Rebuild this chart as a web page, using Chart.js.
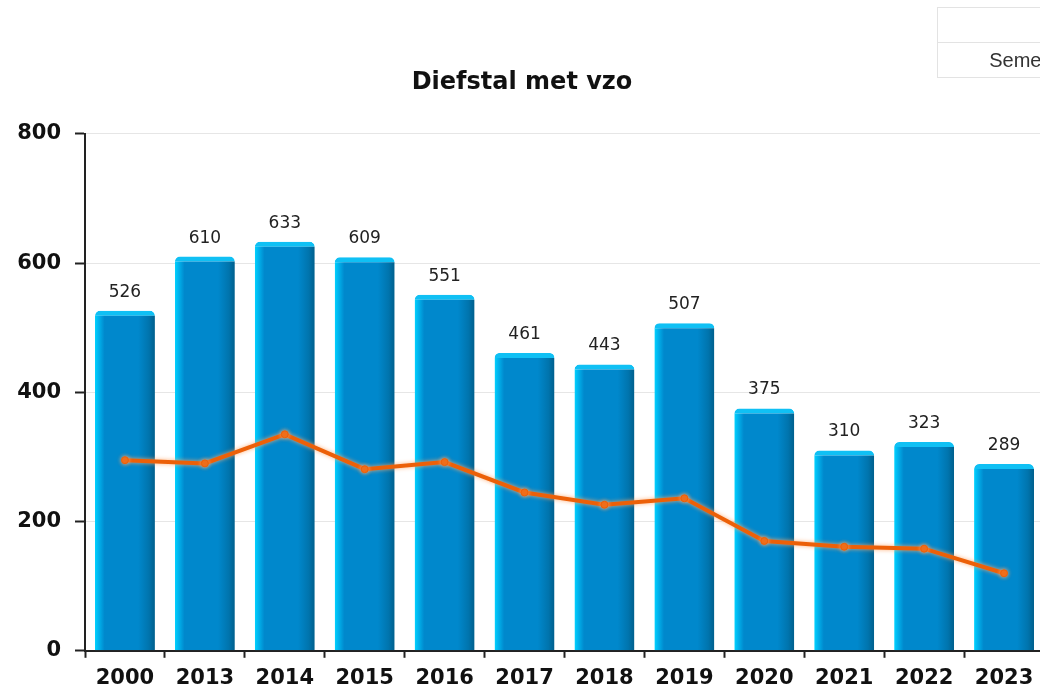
<!DOCTYPE html>
<html>
<head>
<meta charset="utf-8">
<script src="https://cdn.jsdelivr.net/npm/chart.js@4/dist/chart.umd.min.js"></script>
<style>
    body { margin: 0; background: #fff; overflow: hidden; }
    #wrap { position: absolute; left: 0; top: 0; width: 1052px; height: 699px; }
    #info { position: absolute; left: 937px; top: 7px; width: 190px; table-layout: fixed; border-collapse: collapse; font-family: "Liberation Sans", Arial, sans-serif; font-size: 20px; color: #333; }
    #info td { border: 1px solid #e3e3e3; height: 34px; text-align: center; padding: 0; }
</style>
</head>
<body>
<div id="wrap"><canvas id="chart"></canvas></div>
<table id="info">
    <tr><td></td></tr>
    <tr><td>Semester</td></tr>
</table>
<script>
// jaren + aantallen
const years = ['2000', '2013', '2014', '2015', '2016', '2017', '2018', '2019', '2020', '2021', '2022', '2023'];
const barValues = [526, 610, 633, 609, 551, 461, 443, 507, 375, 310, 323, 289];
const lineValues = [295, 290, 335, 281, 292, 245, 226, 236, 170, 161, 158, 120];
const yTicks = [0, 200, 400, 600, 800];

// horizontale gradient per staaf
function barGradient(ctx) {
    const chart = ctx.chart;
    const xs = chart.scales.x;
    if (!xs || !chart.chartArea) return '#0088cc';
    const cx = xs.getPixelForValue(ctx.dataIndex);
    const w = xs.width / years.length * 0.75;
    const g = chart.ctx.createLinearGradient(cx - w / 2, 0, cx + w / 2, 0);
    g.addColorStop(0, '#00d2ff');
    g.addColorStop(0.06, '#00b4ee');
    g.addColorStop(0.16, '#0088cc');
    g.addColorStop(0.72, '#0088cc');
    g.addColorStop(0.9, '#0074ad');
    g.addColorStop(1, '#005f8c');
    return g;
}

// waarden boven de staven + gloed om de lijn
const valueLabels = {
    id: 'valueLabels',
    beforeDatasetDraw(chart, args) {
        if (args.index !== 0) return;
        chart.ctx.save();
        chart.ctx.shadowColor = 'rgba(255, 170, 110, 0.9)';
        chart.ctx.shadowBlur = 4;
    },
    afterDatasetDraw(chart, args) {
        if (args.index === 0) chart.ctx.restore();
    },
    afterDatasetsDraw(chart) {
        const meta = chart.getDatasetMeta(1);
        const c = chart.ctx;
        c.save();
        c.font = '17px "DejaVu Sans"';
        c.fillStyle = '#222';
        c.textAlign = 'center';
        c.textBaseline = 'bottom';
        meta.data.forEach((bar, i) => {
            c.fillText(barValues[i], bar.x, bar.y - 10);
        });
        c.restore();
    }
};

new Chart(document.getElementById('chart'), {
    data: {
        labels: years,
        datasets: [{
            type: 'line',
            data: lineValues,
            borderColor: '#ec6008',
            borderWidth: 4,
            pointRadius: 3.5,
            pointBorderWidth: 1,
            pointBackgroundColor: '#ec6008',
            pointBorderColor: '#ec6008',
            tension: 0,
            order: 0
        }, {
            type: 'bar',
            data: barValues,
            backgroundColor: barGradient,
            borderColor: '#10c0f4',
            borderWidth: { top: 5, left: 0, right: 0, bottom: 0 },
            borderRadius: { topLeft: 5, topRight: 5 },
            borderSkipped: false,
            barPercentage: 0.75,
            categoryPercentage: 1,
            order: 1
        }]
    },
    options: {
        responsive: true,
        maintainAspectRatio: false,
        animation: false,
        layout: { padding: { top: 58, right: 8, left: 0, bottom: 0 } },
        plugins: {
            legend: { display: false },
            tooltip: { enabled: false },
            title: {
                display: true,
                text: 'Diefstal met vzo',
                color: '#111',
                font: { family: 'DejaVu Sans', size: 24, weight: 'bold' },
                padding: { top: 10, bottom: 37 }
            }
        },
        scales: {
            x: {
                grid: { drawOnChartArea: false, offset: true, tickColor: '#222', tickLength: 7, tickWidth: 2 },
                border: { color: '#222', width: 2 },
                ticks: { color: '#111', padding: 8, font: { family: 'DejaVu Sans', size: 21, weight: 'bold' } }
            },
            y: {
                min: 0,
                max: 800,
                afterBuildTicks: s => { s.ticks = yTicks.map(v => ({ value: v })); },
                afterFit: s => { s.width = 85; },
                grid: { color: '#e6e6e6', tickColor: '#222', tickLength: 10, tickWidth: 2 },
                border: { color: '#222', width: 2 },
                ticks: { color: '#111', padding: 14, font: { family: 'DejaVu Sans', size: 21, weight: 'bold' } }
            }
        }
    },
    plugins: [valueLabels]
});
</script>
</body>
</html>
